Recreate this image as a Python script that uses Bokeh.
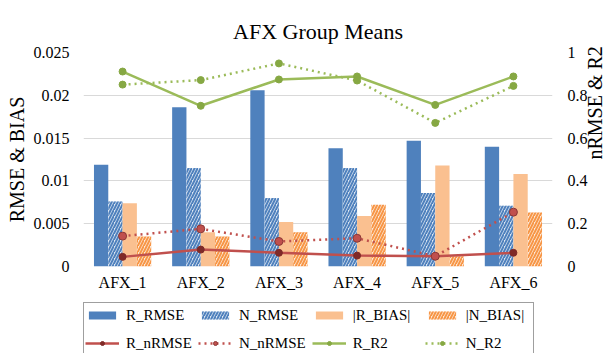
import math
from bokeh.plotting import figure
from bokeh.layouts import column
from bokeh.models import (FactorRange, Range1d, LinearAxis, FixedTicker,
                          CustomJSTickFormatter, Legend, LegendItem, ColumnDataSource)
from bokeh.transform import dodge
from bokeh.embed import file_html
from bokeh.resources import INLINE

cats = ["AFX_1", "AFX_2", "AFX_3", "AFX_4", "AFX_5", "AFX_6"]
r_rmse = [0.0119, 0.0186, 0.0206, 0.0138, 0.0147, 0.0140]
n_rmse = [0.0076, 0.0115, 0.0080, 0.0115, 0.0086, 0.0071]
r_bias = [0.0074, 0.0040, 0.0052, 0.0059, 0.0118, 0.0108]
n_bias = [0.0035, 0.0035, 0.0040, 0.0072, 0.0012, 0.0063]
r_nrmse = [0.045, 0.079, 0.064, 0.051, 0.048, 0.064]
n_nrmse = [0.142, 0.176, 0.117, 0.132, 0.048, 0.254]
r_r2 = [0.911, 0.751, 0.874, 0.888, 0.755, 0.888]
n_r2 = [0.850, 0.871, 0.949, 0.869, 0.671, 0.844]
left_ticks = [0, 0.005, 0.01, 0.015, 0.02, 0.025]
right_ticks = [0, 0.2, 0.4, 0.6, 0.8, 1]
series_names = ["R_RMSE", "N_RMSE", "|R_BIAS|", "|N_BIAS|",
                "R_nRMSE", "N_nRMSE", "R_R2", "N_R2"]

FONT = "Liberation Serif"
BLUE = "#4f81bd"
BLUE_L = "#dce6f2"
ORANGE_L = "#fac090"
ORANGE_LL = "#fde9d9"
ORANGE = "#f79646"
RED = "#c0504d"
RED_D = "#7f2a28"
RED_EDGE = "#8c3836"
GREEN = "#9bbb59"
GREEN_D = "#86a843"

src = ColumnDataSource(dict(cat=cats, r_rmse=r_rmse, n_rmse=n_rmse, r_bias=r_bias,
                            n_bias=n_bias, r_nrmse=r_nrmse, n_nrmse=n_nrmse,
                            r_r2=r_r2, n_r2=n_r2))

p = figure(frame_width=469, frame_height=214, x_range=FactorRange(*cats),
           y_range=Range1d(0, 0.025),
           output_backend="svg", toolbar_location=None,
           min_border_left=83, min_border_right=60, min_border_top=52, min_border_bottom=36)
p.extra_y_ranges = {"right": Range1d(0, 1)}
p.outline_line_color = None
p.background_fill_color = "white"

p.title.text = "AFX Group Means"
p.title.align = "center"
p.title.text_font = FONT
p.title.text_font_size = "22px"
p.title.text_font_style = "normal"
p.title.text_color = "#000000"
p.title.standoff = 18
p.title.offset = -10

bw = 0.183
bar_styles = [
    dict(fill_color=BLUE, line_color=None),
    dict(fill_color=BLUE_L, line_color=None, hatch_pattern="/", hatch_color=BLUE,
         hatch_scale=6, hatch_weight=2),
    dict(fill_color=ORANGE_L, line_color=None),
    dict(fill_color=ORANGE_LL, line_color=None, hatch_pattern="/", hatch_color=ORANGE,
         hatch_scale=6, hatch_weight=2),
]
bar_cols = ["r_rmse", "n_rmse", "r_bias", "n_bias"]
for i, (col, st) in enumerate(zip(bar_cols, bar_styles)):
    p.vbar(x=dodge("cat", (i - 1.5) * bw, range=p.x_range), top=col, width=bw,
           source=src, **st)

line_styles = [
    (dict(line_color=RED, line_width=2.5),
     dict(size=7, fill_color=RED_D, line_color=RED_D)),
    (dict(line_color=RED, line_width=2.5, line_dash="dotted"),
     dict(size=8, fill_color=RED, line_color=RED_EDGE)),
    (dict(line_color=GREEN, line_width=2.5),
     dict(size=7, fill_color=GREEN_D, line_color=GREEN_D)),
    (dict(line_color=GREEN, line_width=2.5, line_dash="dotted"),
     dict(size=7, fill_color=GREEN_D, line_color=GREEN_D)),
]
line_cols = ["r_nrmse", "n_nrmse", "r_r2", "n_r2"]
for col, (ls, ms) in zip(line_cols, line_styles):
    p.line("cat", col, source=src, y_range_name="right", **ls)
    p.scatter("cat", col, source=src, y_range_name="right", **ms)

# left axis
yax = p.yaxis[0]
yax.ticker = FixedTicker(ticks=left_ticks)
yax.formatter = CustomJSTickFormatter(code="return String(tick)")
yax.axis_label = "RMSE & BIAS"
# right axis
rax = LinearAxis(y_range_name="right", ticker=FixedTicker(ticks=right_ticks),
                 formatter=CustomJSTickFormatter(code="return String(tick)"),
                 axis_label="nRMSE & R2")
p.add_layout(rax, "right")

xax = p.xaxis[0]
for ax in [yax, rax, xax]:
    ax.axis_line_color = None
    ax.major_tick_line_color = None
    ax.minor_tick_line_color = None
    ax.major_tick_out = 0
    ax.major_tick_in = 0
    ax.major_label_text_font = FONT
    ax.major_label_text_font_size = "16px"
    ax.major_label_text_color = "#000000"
    ax.axis_label_text_font = FONT
    ax.axis_label_text_font_size = "20px"
    ax.axis_label_text_font_style = "normal"
    ax.axis_label_text_color = "#000000"
yax.major_label_standoff = 14
rax.major_label_standoff = 15
yax.axis_label_standoff = 3
rax.axis_label_standoff = 4
rax.axis_label_orientation = math.pi / 2
xax.major_label_standoff = 7

p.xgrid.grid_line_color = None
p.ygrid.ticker = FixedTicker(ticks=left_ticks)
p.ygrid.grid_line_color = "#d9d9d9"
p.ygrid.grid_line_width = 1

# ---- legend strip (separate figure so the legend is never clipped) ----
# proxy renderers: one point placed outside the strip's visible range
lf = figure(width=612, height=53, output_backend="svg", toolbar_location=None,
            x_axis_type=None, y_axis_type=None, x_range=Range1d(1, 2), y_range=Range1d(1, 2),
            min_border_left=83, min_border_right=0, min_border_top=0, min_border_bottom=0)
lf.outline_line_color = None
lf.xgrid.visible = False
lf.ygrid.visible = False
proxy = ColumnDataSource(dict(x=[0], y=[0]))
items = []
for name, st in zip(series_names[:4], bar_styles):
    r = lf.vbar(x="x", top="y", width=0.1, source=proxy, **st)
    items.append(LegendItem(label=name, renderers=[r]))
for name, (ls, ms) in zip(series_names[4:], line_styles):
    rl = lf.line("x", "y", source=proxy, **ls)
    rs = lf.scatter("x", "y", source=proxy, **ms)
    items.append(LegendItem(label=name, renderers=[rl, rs]))

legend = Legend(items=items, orientation="horizontal", ncols=4, location="top_left", margin=0,
                padding=1, spacing=6, glyph_width=34, glyph_height=10, label_standoff=7,
                label_width=66, label_height=22, label_text_font=FONT,
                label_text_font_size="15px", label_text_color="#000000",
                border_line_color="#404040", border_line_width=1,
                background_fill_color="white", background_fill_alpha=1)
lf.add_layout(legend, "center")

layout = column(p, lf, spacing=0)
open("out.html", "w").write(file_html(layout, INLINE))
